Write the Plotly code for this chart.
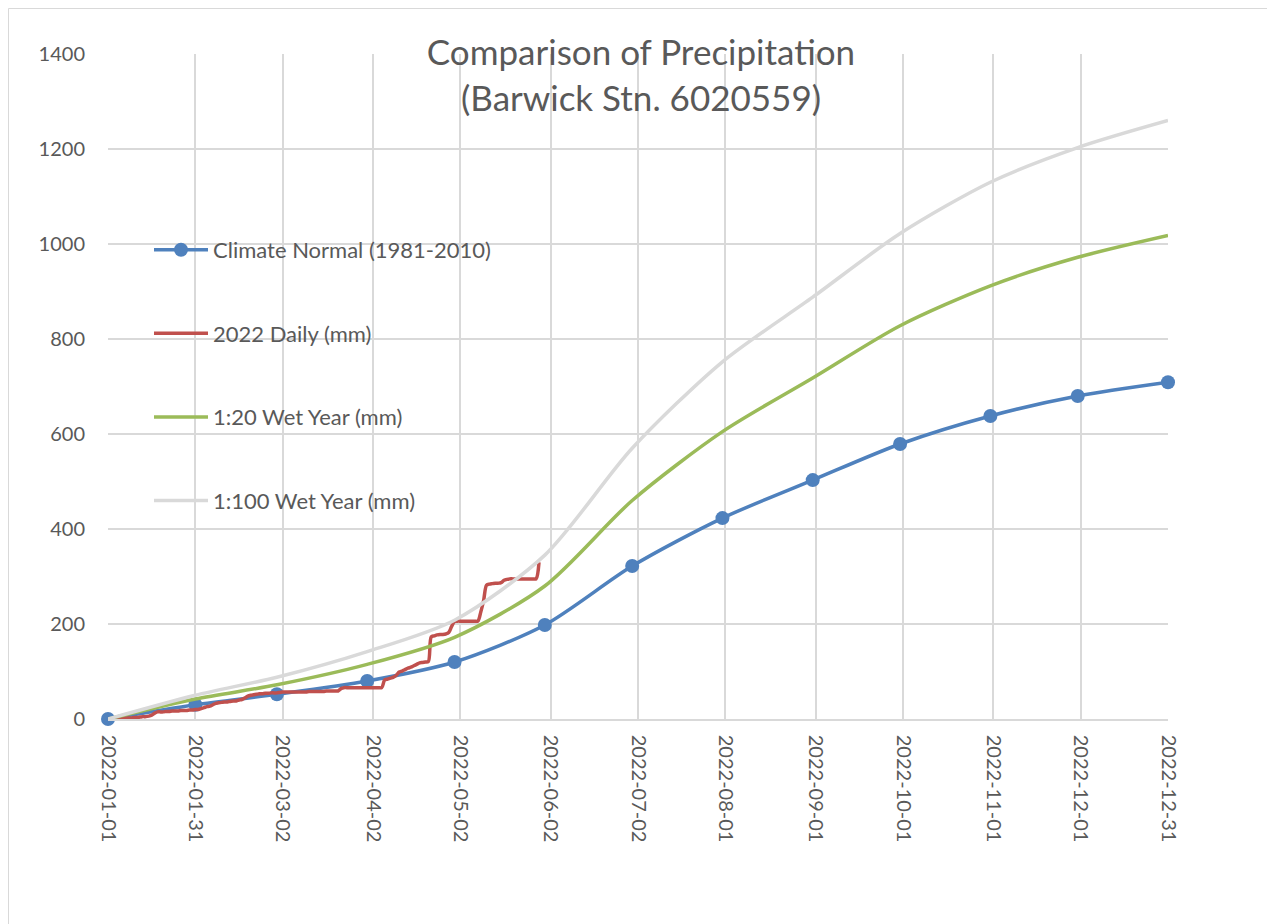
import plotly.graph_objects as go
import pandas as pd

# ---- data ----
tick_labels = ["2022-01-01", "2022-01-31", "2022-03-02", "2022-04-02", "2022-05-02",
               "2022-06-02", "2022-07-02", "2022-08-01", "2022-09-01", "2022-10-01",
               "2022-11-01", "2022-12-01", "2022-12-31"]

month_dates = ["2022-01-01", "2022-01-31", "2022-02-28", "2022-03-31", "2022-04-30",
               "2022-05-31", "2022-06-30", "2022-07-31", "2022-08-31", "2022-09-30",
               "2022-10-31", "2022-11-30", "2022-12-31"]

climate_normal = [0, 30, 52, 80, 120, 198, 322, 423, 503, 579, 638, 680, 709]
wet_1_20 = [0, 42, 72, 115, 172, 280, 460, 605, 718, 828, 912, 972, 1018]
wet_1_100 = [0, 50, 88, 142, 208, 345, 570, 752, 888, 1022, 1130, 1203, 1260]

daily_start = "2022-01-01"
daily_2022 = [
    0, 0, 0, 1, 1, 1, 2, 2, 2, 3,
    3, 4, 5, 5, 6, 8, 12, 15, 15, 15,
    16, 16, 17, 17, 17, 18, 18, 18, 19, 19,
    20, 20, 22, 24, 26, 27, 30, 33, 34, 35,
    36, 36, 37, 38, 38, 40, 41, 44, 48, 50,
    51, 52, 53, 53, 54, 54, 55, 55, 55, 56,
    57, 57, 57, 57, 57, 57, 57, 57, 57, 58,
    58, 58, 58, 58, 58, 59, 59, 59, 59, 59,
    64, 66, 66, 66, 66, 66, 66, 66, 66, 66,
    66, 66, 66, 66, 66, 82, 84, 86, 88, 92,
    99, 101, 104, 107, 109, 112, 115, 118, 119, 120,
    121, 173, 175, 177, 178, 178, 179, 182, 195, 205,
    206, 206, 206, 206, 206, 206, 206, 206, 225, 250,
    282, 284, 285, 286, 286, 287, 292, 294, 295, 295,
    295, 295, 295, 295, 295, 295, 295, 295, 330,
]
daily_dates = pd.date_range(daily_start, periods=len(daily_2022), freq="D")

# ---- figure ----
FONT = "Lato, Carlito, Calibri, sans-serif"
TXT = "#595959"
GRID = "#d9d9d9"

W, H = 1267, 916
L, T, R, B = 100, 46, 107, 205
PW, PH = W - L - R, H - T - B

fig = go.Figure()
fig.add_trace(go.Scatter(
    x=month_dates, y=climate_normal, name="Climate Normal (1981-2010)",
    mode="lines+markers", line=dict(color="#4f81bd", width=3.5, shape="spline", smoothing=0.8),
    marker=dict(color="#4f81bd", size=14), cliponaxis=False, legendgroup="a"))
fig.add_trace(go.Scatter(
    x=daily_dates, y=daily_2022, name="2022 Daily (mm)",
    mode="lines", line=dict(color="#c0504d", width=3.5, shape="spline", smoothing=0.9),
    cliponaxis=False, legendgroup="b"))
fig.add_trace(go.Scatter(
    x=month_dates, y=wet_1_20, name="1:20 Wet Year (mm)",
    mode="lines", line=dict(color="#9bbb59", width=3.5, shape="spline", smoothing=0.8),
    cliponaxis=False, legendgroup="c"))
fig.add_trace(go.Scatter(
    x=month_dates, y=wet_1_100, name="1:100 Wet Year (mm)",
    mode="lines", line=dict(color="#d9d9d9", width=3.5, shape="spline", smoothing=0.8),
    cliponaxis=False, legendgroup="d"))

fig.update_layout(
    width=W, height=H,
    margin=dict(l=L, r=R, t=T, b=B),
    paper_bgcolor="white", plot_bgcolor="white",
    font=dict(family=FONT, color=TXT, size=20),
    title=dict(text="Comparison of Precipitation<br>(Barwick Stn. 6020559)",
               x=(641 - 8) / W, xanchor="center", xref="container",
               y=1 - 57 / H, yanchor="middle", yref="container",
               font=dict(family=FONT, size=35, color=TXT)),
    legend=dict(x=41 / PW, y=0.737, xanchor="left", yanchor="top",
                bgcolor="rgba(0,0,0,0)", font=dict(family=FONT, size=22, color=TXT),
                traceorder="grouped", tracegroupgap=52, itemwidth=54),
    showlegend=True,
)
fig.update_xaxes(
    type="date", range=["2022-01-01", "2022-12-31"],
    tickvals=tick_labels, ticktext=tick_labels, tickangle=90,
    showgrid=True, gridcolor=GRID, gridwidth=1.5,
    showline=True, linecolor=GRID, linewidth=1.5,
    ticks="", ticklabelstandoff=10, zeroline=False,
    tickfont=dict(family=FONT, size=20, color=TXT),
)
fig.update_yaxes(
    range=[0, 1400], tickvals=[0, 200, 400, 600, 800, 1000, 1200, 1400],
    showgrid=True, gridcolor=GRID, gridwidth=1.5, zeroline=False,
    showline=False, ticks="", ticklabelstandoff=22,
    tickfont=dict(family=FONT, size=20, color=TXT),
)
fig.add_shape(type="rect", xref="paper", yref="paper",
              x0=(0.5 - L) / PW, x1=(W + 30 - L) / PW,
              y0=(PH + T - H - 30) / PH, y1=(PH + T - 0.5) / PH,
              line=dict(color="#d9d9d9", width=1), fillcolor="rgba(0,0,0,0)", layer="below")

fig.write_html("out.html")
